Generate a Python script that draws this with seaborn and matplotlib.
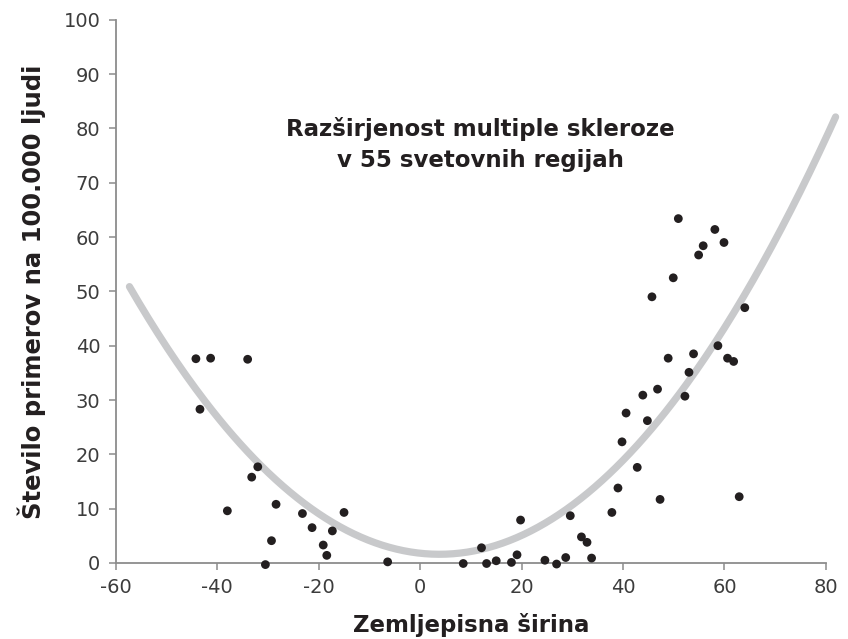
import numpy as np
import pandas as pd
import seaborn as sns
import matplotlib.pyplot as plt

# geographic latitude vs MS cases per 100,000 people
latitude = [-44.2, -41.3, -34.0, -43.4, -38.0, -32.0, -33.2, -30.5, -29.3, -28.4,
            -23.2, -21.3, -19.1, -18.4, -17.3, -15.0, -6.4, 8.5, 12.1, 13.1,
            15.0, 18.0, 19.1, 19.8, 24.6, 26.9, 28.7, 29.6, 31.8, 32.9,
            33.8, 37.8, 39.0, 39.8, 40.6, 42.8, 43.9, 44.8, 46.8, 47.3,
            52.2, 62.9, 50.9, 58.1, 59.9, 55.8, 54.9, 49.9, 45.7, 64.0,
            58.7, 48.9, 53.9, 60.6, 61.8, 53.0]
cases = [37.6, 37.7, 37.5, 28.3, 9.6, 17.7, 15.8, -0.3, 4.1, 10.8,
         9.1, 6.5, 3.3, 1.4, 5.9, 9.3, 0.2, -0.1, 2.8, -0.1,
         0.4, 0.1, 1.5, 7.9, 0.5, -0.2, 1.0, 8.7, 4.8, 3.8,
         0.9, 9.3, 13.8, 22.3, 27.6, 17.6, 30.9, 26.2, 32.0, 11.7,
         30.7, 12.2, 63.4, 61.4, 59.0, 58.4, 56.7, 52.5, 49.0, 47.0,
         40.0, 37.7, 38.5, 37.7, 37.1, 35.1]

# quadratic trendline as drawn in the original (a*x^2 + b*x + c) and its extent
trend_coef = [0.0132, -0.1003, 1.79]
trend_range = (-57.3, 81.9)

x_ticks = [-60, -40, -20, 0, 20, 40, 60, 80]
y_ticks = [0, 10, 20, 30, 40, 50, 60, 70, 80, 90, 100]

title = "Razširjenost multiple skleroze\nv 55 svetovnih regijah"
x_label = "Zemljepisna širina"
y_label = "Število primerov na 100.000 ljudi"

df = pd.DataFrame({"lat": latitude, "cases": cases})
tx = np.linspace(trend_range[0], trend_range[1], 300)
trend = pd.DataFrame({"lat": tx, "cases": np.polyval(trend_coef, tx)})

sns.set_theme(style="ticks")
plt.rcParams["font.family"] = ["DejaVu Sans"]

fig = plt.figure(figsize=(8.48, 6.39), dpi=100)
ax = fig.add_axes([0.1365, 0.119, 0.8375, 0.85])

sns.lineplot(data=trend, x="lat", y="cases", ax=ax, color="#c8c9cb",
             linewidth=5.2, solid_capstyle="round", zorder=2, clip_on=False)
sns.scatterplot(data=df, x="lat", y="cases", ax=ax, color="#231f20",
                s=40, edgecolor="none", zorder=3, clip_on=False)

ax.set_xlim(-60, 80)
ax.set_ylim(0, 100)
ax.set_xticks(x_ticks)
ax.set_yticks(y_ticks)
ax.set_xticklabels([str(t) for t in x_ticks])
ax.tick_params(axis="both", length=5, width=1.1, color="#8c8c8c",
               labelsize=14, labelcolor="#3c3c3c")
ax.tick_params(axis="x", pad=6)
ax.tick_params(axis="y", pad=6)

for side in ("top", "right"):
    ax.spines[side].set_visible(False)
for side in ("left", "bottom"):
    ax.spines[side].set_color("#8c8c8c")
    ax.spines[side].set_linewidth(1.3)

ax.set_xlabel(x_label, fontsize=16.5, fontweight="bold", color="#231f20",
              labelpad=11)
ax.set_ylabel(y_label, fontsize=17.5, fontweight="bold", color="#231f20",
              labelpad=13)

ax.text(11.8, 77, title, ha="center", va="center", fontsize=16.5,
        fontweight="bold", color="#231f20", linespacing=1.45)

fig.savefig("out.png", dpi=100)
